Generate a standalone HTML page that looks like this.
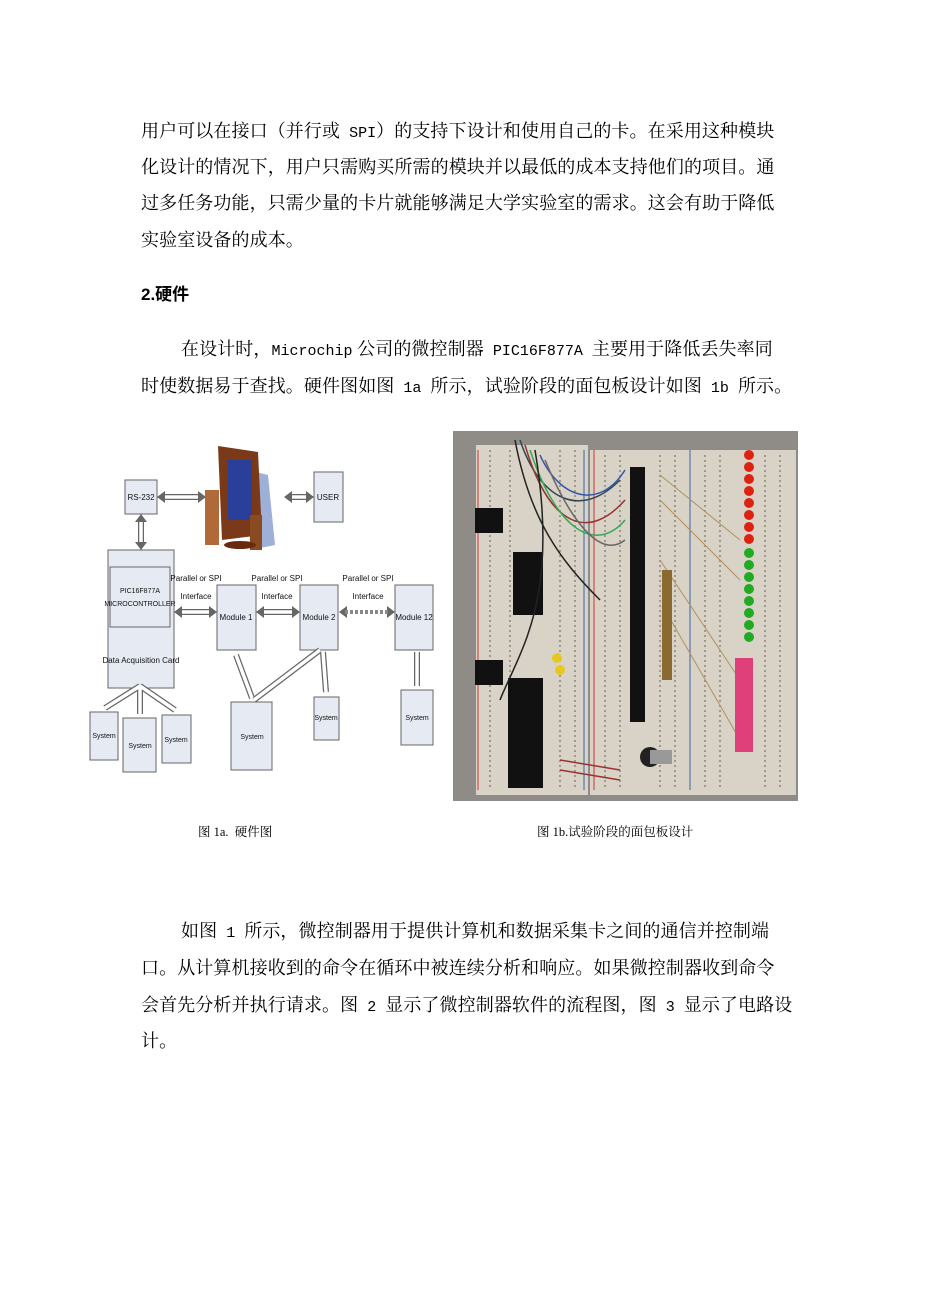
<!DOCTYPE html>
<html><head><meta charset="utf-8"><style>
body{margin:0;background:#fff;width:926px;height:1309px;position:relative;overflow:hidden;font-family:"Liberation Serif","Noto Serif CJK SC","Noto Sans CJK SC",serif;color:#000}
.l{position:absolute;font-size:18px;white-space:nowrap;line-height:20px;letter-spacing:0.1px}
.l span{font-family:"Liberation Mono",monospace;font-size:15px;letter-spacing:0}
.c{position:absolute;font-size:12.5px;white-space:nowrap}
svg text{font-family:"Liberation Sans",sans-serif}
</style></head><body>
<div class="l" style="left:141px;top:121px">用户可以在接口（并行或<span> SPI</span>）的支持下设计和使用自己的卡。在采用这种模块</div>
<div class="l" style="left:141px;top:157px">化设计的情况下，用户只需购买所需的模块并以最低的成本支持他们的项目。通</div>
<div class="l" style="left:141px;top:193px">过多任务功能，只需少量的卡片就能够满足大学实验室的需求。这会有助于降低</div>
<div class="l" style="left:141px;top:230px">实验室设备的成本。</div>
<div class="l" style="left:141px;top:285px;font-weight:bold;font-family:'Liberation Sans','Noto Sans CJK SC',sans-serif;font-size:17px;letter-spacing:0">2.硬件</div>
<div class="l" style="left:181px;top:339px">在设计时，<span>Microchip</span> 公司的微控制器<span> PIC16F877A </span>主要用于降低丢失率同</div>
<div class="l" style="left:141px;top:376px">时使数据易于查找。硬件图如图<span> 1a </span>所示，试验阶段的面包板设计如图<span> 1b </span>所示。</div>

<svg style="position:absolute;left:0;top:0" width="926" height="1309">
<g fill="#e6ebf3" stroke="#666" stroke-width="1">
<rect x="125" y="480" width="32" height="34"/>
<rect x="314" y="472" width="29" height="50"/>
<rect x="108" y="550" width="66" height="138"/>
<rect x="110" y="567" width="60" height="60"/>
<rect x="217" y="585" width="39" height="65"/>
<rect x="300" y="585" width="38" height="65"/>
<rect x="395" y="585" width="38" height="65"/>
<rect x="90" y="712" width="28" height="48"/>
<rect x="123" y="718" width="33" height="54"/>
<rect x="162" y="715" width="29" height="48"/>
<rect x="231" y="702" width="41" height="68"/>
<rect x="314" y="697" width="25" height="43"/>
<rect x="401" y="690" width="32" height="55"/>
</g>
<g stroke="#666" stroke-width="6" stroke-linecap="butt">
<line x1="163" y1="497" x2="200" y2="497"/><line x1="290" y1="497" x2="310" y2="497"/>
<line x1="141" y1="518" x2="141" y2="546"/>
<line x1="180" y1="612" x2="212" y2="612"/><line x1="262" y1="612" x2="296" y2="612"/>
<line x1="236" y1="655" x2="252" y2="698"/><line x1="320" y1="650" x2="254" y2="700"/>
<line x1="323" y1="652" x2="326" y2="692"/><line x1="417" y1="652" x2="417" y2="686"/>
<line x1="140" y1="686" x2="105" y2="708"/><line x1="140" y1="688" x2="140" y2="714"/><line x1="140" y1="686" x2="175" y2="710"/>
</g>
<g stroke="#fff" stroke-width="3.5">
<line x1="163" y1="497" x2="200" y2="497"/><line x1="290" y1="497" x2="310" y2="497"/>
<line x1="141" y1="518" x2="141" y2="546"/>
<line x1="180" y1="612" x2="212" y2="612"/><line x1="262" y1="612" x2="296" y2="612"/>
<line x1="236" y1="655" x2="252" y2="698"/><line x1="320" y1="650" x2="254" y2="700"/>
<line x1="323" y1="652" x2="326" y2="692"/><line x1="417" y1="652" x2="417" y2="686"/>
<line x1="140" y1="686" x2="105" y2="708"/><line x1="140" y1="688" x2="140" y2="714"/><line x1="140" y1="686" x2="175" y2="710"/>
</g>
<g fill="#666">
<path d="M157,497 l8,-6 v12z"/><path d="M206,497 l-8,-6 v12z"/>
<path d="M284,497 l8,-6 v12z"/><path d="M314,497 l-8,-6 v12z"/>
<path d="M174,612 l8,-6 v12z"/><path d="M217,612 l-8,-6 v12z"/>
<path d="M256,612 l8,-6 v12z"/><path d="M300,612 l-8,-6 v12z"/>
<path d="M339,612 l8,-6 v12z"/><path d="M395,612 l-8,-6 v12z"/>
<path d="M141,514 l-6,8 h12z"/><path d="M141,550 l-6,-8 h12z"/>
</g>
<line x1="345" y1="612" x2="390" y2="612" stroke="#888" stroke-width="4" stroke-dasharray="3,2"/>
<path d="M248,470 L268,475 L275,545 L250,550z" fill="#9fb0d8"/>
<rect x="205" y="490" width="14" height="55" fill="#b06a3a"/>
<path d="M218,446 L258,452 L262,535 L222,540z" fill="#7a3a1a"/>
<rect x="228" y="460" width="24" height="60" fill="#2a3f9a"/>
<rect x="250" y="515" width="12" height="35" fill="#8a4a22"/>
<ellipse cx="240" cy="545" rx="16" ry="4" fill="#6a2a10"/>
<g font-size="8" fill="#111" text-anchor="middle">
<text x="141" y="500">RS-232</text><text x="328" y="500">USER</text>
<text x="140" y="593" font-size="7">PIC16F877A</text><text x="140" y="606" font-size="7">MICROCONTROLLER</text>
<text x="141" y="663">Data Acquisition Card</text>
<text x="236" y="620">Module 1</text><text x="319" y="620">Module 2</text><text x="414" y="620">Module 12</text>
<text x="104" y="738" font-size="7">System</text><text x="140" y="748" font-size="7">System</text><text x="176" y="742" font-size="7">System</text>
<text x="252" y="739" font-size="7">System</text><text x="326" y="720" font-size="7">System</text><text x="417" y="720" font-size="7">System</text>
<g font-family="Liberation Serif" font-size="8"><text x="196" y="581">Parallel or SPI</text><text x="196" y="599">Interface</text>
<text x="277" y="581">Parallel or SPI</text><text x="277" y="599">Interface</text>
<text x="368" y="581">Parallel or SPI</text><text x="368" y="599">Interface</text></g>
</g>
<rect x="453" y="431" width="345" height="370" fill="#8f8c88"/>
<g fill="#d8d3c6"><rect x="476" y="445" width="112" height="350"/><rect x="590" y="450" width="96" height="345"/><rect x="686" y="450" width="110" height="345"/></g>
<g stroke="#8a857a" stroke-width="1.5" stroke-dasharray="2,3">
<line x1="490" y1="450" x2="490" y2="790"/><line x1="510" y1="450" x2="510" y2="790"/><line x1="560" y1="450" x2="560" y2="790"/><line x1="575" y1="450" x2="575" y2="790"/>
<line x1="605" y1="455" x2="605" y2="790"/><line x1="620" y1="455" x2="620" y2="790"/><line x1="660" y1="455" x2="660" y2="790"/><line x1="675" y1="455" x2="675" y2="790"/>
<line x1="705" y1="455" x2="705" y2="790"/><line x1="720" y1="455" x2="720" y2="790"/><line x1="765" y1="455" x2="765" y2="790"/><line x1="780" y1="455" x2="780" y2="790"/>
</g>
<g stroke-width="1"><line x1="478" y1="450" x2="478" y2="790" stroke="#c33"/><line x1="594" y1="450" x2="594" y2="790" stroke="#c33"/><line x1="690" y1="450" x2="690" y2="790" stroke="#36a"/><line x1="584" y1="450" x2="584" y2="790" stroke="#36a"/></g>
<g fill="#111"><rect x="513" y="552" width="30" height="63"/><rect x="508" y="678" width="35" height="110"/><rect x="630" y="467" width="15" height="255"/><rect x="475" y="508" width="28" height="25"/><rect x="475" y="660" width="28" height="25"/></g>
<g stroke-width="1.5" fill="none">
<path d="M520,440 C540,500 580,520 620,480" stroke="#345"/><path d="M525,445 C550,530 590,540 625,500" stroke="#933"/>
<path d="M530,450 C560,540 600,550 625,520" stroke="#3a5"/><path d="M540,455 C560,500 600,510 625,470" stroke="#35a"/>
<path d="M545,460 C570,520 600,560 625,540" stroke="#666"/>
<path d="M515,440 C530,520 560,560 600,600" stroke="#222"/><path d="M535,450 C560,600 520,650 500,700" stroke="#222"/>
<path d="M560,760 L620,770" stroke="#933"/><path d="M560,770 L620,780" stroke="#933"/>
</g>
<g stroke="#b09060" stroke-width="1"><line x1="660" y1="475" x2="740" y2="540"/><line x1="660" y1="500" x2="740" y2="580"/><line x1="660" y1="560" x2="740" y2="680"/><line x1="665" y1="610" x2="740" y2="740"/></g>
<g fill="#8a6a30"><rect x="662" y="570" width="10" height="60"/><rect x="662" y="630" width="10" height="50"/></g>
<g fill="#d21"><circle cx="749" cy="455" r="5"/><circle cx="749" cy="467" r="5"/><circle cx="749" cy="479" r="5"/><circle cx="749" cy="491" r="5"/><circle cx="749" cy="503" r="5"/><circle cx="749" cy="515" r="5"/><circle cx="749" cy="527" r="5"/><circle cx="749" cy="539" r="5"/></g>
<g fill="#2a2"><circle cx="749" cy="553" r="5"/><circle cx="749" cy="565" r="5"/><circle cx="749" cy="577" r="5"/><circle cx="749" cy="589" r="5"/><circle cx="749" cy="601" r="5"/><circle cx="749" cy="613" r="5"/><circle cx="749" cy="625" r="5"/><circle cx="749" cy="637" r="5"/></g>
<rect x="735" y="658" width="18" height="94" fill="#e0407a"/>
<g fill="#e8c820"><circle cx="557" cy="658" r="5"/><circle cx="560" cy="670" r="5"/></g>
<circle cx="650" cy="757" r="10" fill="#222"/><rect x="650" y="750" width="22" height="14" fill="#999"/>
</svg>
<div class="c" style="left:198px;top:822px">图 1a.&nbsp; 硬件图</div>
<div class="c" style="left:537px;top:822px">图 1b.试验阶段的面包板设计</div>
<div class="l" style="left:181px;top:921px">如图<span> 1 </span>所示，微控制器用于提供计算机和数据采集卡之间的通信并控制端</div>
<div class="l" style="left:141px;top:958px">口。从计算机接收到的命令在循环中被连续分析和响应。如果微控制器收到命令</div>
<div class="l" style="left:141px;top:995px">会首先分析并执行请求。图<span> 2 </span>显示了微控制器软件的流程图，图<span> 3 </span>显示了电路设</div>
<div class="l" style="left:141px;top:1031px">计。</div>
</body></html>
